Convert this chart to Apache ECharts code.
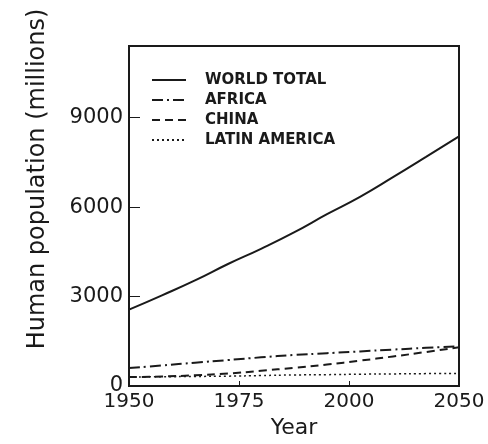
<!DOCTYPE html>
<html>
<head>
<meta charset="utf-8">
<script src="https://cdn.jsdelivr.net/npm/echarts@6/dist/echarts.min.js"></script>
<style>
  html, body { margin: 0; padding: 0; background: #fff; }
  #chart { width: 488px; height: 444px; }
</style>
</head>
<body>
<div id="chart"></div>
<script>
// years along the x axis
var years = [1950, 1960, 1970, 1980, 1990, 2000, 2010, 2020, 2030, 2040, 2050];
// population, millions
var worldTotal = [2560, 3040, 3540, 4090, 4600, 5150, 5760, 6340, 7000, 7680, 8370];
var africa = [600, 690, 780, 870, 960, 1040, 1100, 1160, 1220, 1280, 1330];
var china = [300, 320, 360, 420, 510, 610, 720, 850, 990, 1140, 1300];
var latinAmerica = [300, 310, 320, 330, 350, 370, 380, 395, 405, 415, 420];
// tick labels as printed on the original
var xLabels = ['1950', '1975', '2000', '2050'];
var yTicks = [0, 3000, 6000, 9000];

function pairs(ys) {
	return years.map(function (y, i) { return [y, ys[i]]; });
}

var myChart = echarts.init(document.getElementById('chart'));

var ink = '#1a1a1a';
var font = 'DejaVu Sans';

var option = {
	animation: false,
	backgroundColor: '#fff',
	grid: {
		left: 129, top: 46, right: 29, bottom: 58,
		show: true, borderColor: ink, borderWidth: 2
	},
	legend: {
		orient: 'vertical',
		left: 146, top: 67,
		itemWidth: 34, itemHeight: 12, itemGap: 4,
		itemStyle: { opacity: 0 },
		textStyle: {
			color: ink, fontFamily: font, fontSize: 15, fontWeight: 'bold',
			lineHeight: 16, padding: [0, 0, 0, 14]
		},
		data: ['WORLD TOTAL', 'AFRICA', 'CHINA', 'LATIN AMERICA']
	},
	xAxis: {
		type: 'value',
		min: 1950, max: 2050, interval: 100 / 3,
		name: 'Year', nameLocation: 'middle', nameGap: 30,
		nameTextStyle: { color: ink, fontFamily: font, fontSize: 22 },
		axisLine: { lineStyle: { color: ink, width: 2 } },
		axisTick: { inside: true, length: 5, lineStyle: { color: ink } },
		axisLabel: {
			color: ink, fontFamily: font, fontSize: 20, margin: 6,
			formatter: function (v) {
				return xLabels[Math.round((v - 1950) * 3 / 100)] || '';
			}
		},
		splitLine: { show: false }
	},
	yAxis: {
		type: 'value',
		min: 0, max: 11400, interval: 3000,
		axisLine: { show: true, lineStyle: { color: ink, width: 2 } },
		axisTick: { inside: true, length: 11, lineStyle: { color: ink } },
		axisLabel: {
			color: ink, fontFamily: font, fontSize: 21, margin: 6,
			formatter: function (v) {
				return yTicks.indexOf(v) >= 0 ? String(v) : '';
			}
		},
		splitLine: { show: false }
	},
	graphic: [{
		type: 'text',
		x: 38, y: 179,
		rotation: Math.PI / 2,
		style: {
			text: 'Human population (millions)',
			fill: ink, font: '24px "DejaVu Sans"',
			textAlign: 'center', textVerticalAlign: 'middle'
		}
	}],
	series: [
		{
			name: 'WORLD TOTAL', type: 'line', smooth: true, symbol: 'none',
			lineStyle: { color: ink, width: 2 }, itemStyle: { color: ink },
			data: pairs(worldTotal)
		},
		{
			name: 'AFRICA', type: 'line', smooth: true, symbol: 'none',
			lineStyle: { color: ink, width: 2, type: [11, 4, 2, 4] }, itemStyle: { color: ink },
			data: pairs(africa)
		},
		{
			name: 'CHINA', type: 'line', smooth: true, symbol: 'none',
			lineStyle: { color: ink, width: 2, type: [8, 5] }, itemStyle: { color: ink },
			data: pairs(china)
		},
		{
			name: 'LATIN AMERICA', type: 'line', smooth: true, symbol: 'none',
			lineStyle: { color: ink, width: 1.5, type: [2, 3] }, itemStyle: { color: ink },
			data: pairs(latinAmerica)
		}
	]
};

myChart.setOption(option, true);
</script>
</body>
</html>
